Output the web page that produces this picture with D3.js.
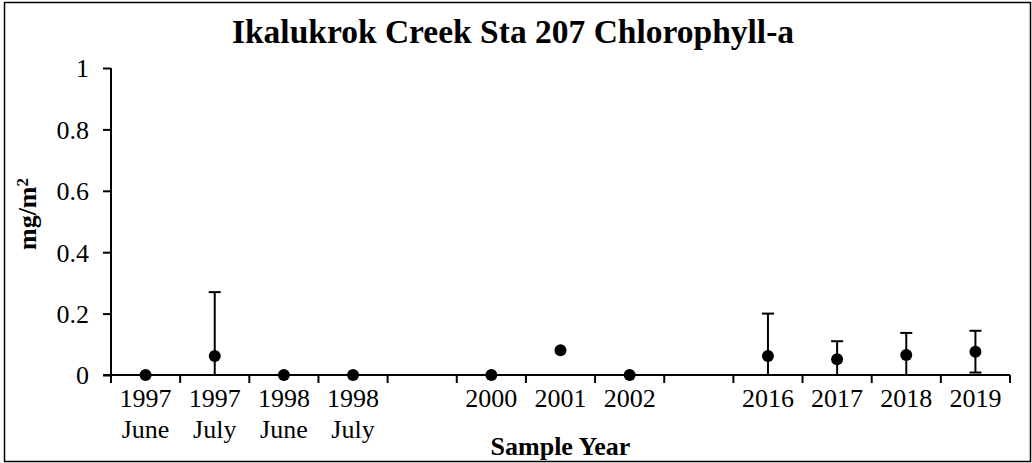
<!DOCTYPE html>
<html>
<head>
<meta charset="utf-8">
<script src="https://cdn.jsdelivr.net/npm/d3@7"></script>
<style>
  body { margin: 0; background: #fff; }
  svg { display: block; }
</style>
</head>
<body>
<div id="chart"></div>
<script>
// chart values
var yearLabels = ["1997", "1997", "1998", "1998", "", "2000", "2001", "2002", "", "2016", "2017", "2018", "2019"];
var monthLabels = ["June", "July", "June", "July", "", "", "", "", "", "", "", "", ""];
var means = [0, 0.062, 0, 0, null, 0, 0.081, 0, null, 0.062, 0.051, 0.065, 0.076];
var errors = [0, 0.208, 0, 0, null, 0, 0, 0, null, 0.138, 0.059, 0.072, 0.068];
var yTicks = [0, 0.2, 0.4, 0.6, 0.8, 1];

var serif = '"Liberation Serif", "Times New Roman", serif';
var width = 1032, height = 463;
var margin = {top: 68, right: 22, bottom: 88, left: 111};

var svg = d3.select("#chart").append("svg")
    .attr("width", width)
    .attr("height", height);

// outer frame
svg.append("rect")
    .attr("x", 4.5).attr("y", 2.5)
    .attr("width", width - 6).attr("height", height - 4)
    .attr("fill", "none")
    .attr("stroke", "#000")
    .attr("stroke-width", 1.5);

var x = d3.scaleBand()
    .domain(d3.range(yearLabels.length))
    .range([margin.left, width - margin.right]);

var y = d3.scaleLinear()
    .domain([0, 1])
    .range([height - margin.bottom, margin.top]);

// title
svg.append("text")
    .attr("x", 513)
    .attr("y", 43)
    .attr("text-anchor", "middle")
    .style("font-size", "33.5px")
    .style("font-weight", "bold")
    .text("Ikalukrok Creek Sta 207 Chlorophyll-a");

// y axis
var yAxis = svg.append("g")
    .attr("transform", "translate(" + margin.left + ",0)")
    .call(d3.axisLeft(y).tickValues(yTicks).tickSize(8).tickPadding(14).tickFormat(d3.format("")));
yAxis.select(".domain").attr("stroke-width", 2).attr("d", "M0," + y(1) + "V" + y(0));
yAxis.selectAll(".tick line").attr("stroke-width", 2);
yAxis.selectAll(".tick text").style("font-size", "26px").attr("dy", "0.34em");

// x axis: band edges get the tick marks
var xAxis = svg.append("g")
    .attr("transform", "translate(0," + y(0) + ")");
xAxis.append("line")
    .attr("x1", margin.left - 8).attr("x2", width - margin.right)
    .attr("stroke", "#000").attr("stroke-width", 2);
var edges = d3.range(yearLabels.length + 1).map(function(i) {
    return i < yearLabels.length ? x(i) : x(i - 1) + x.bandwidth();
});
xAxis.selectAll(".xtick")
    .data(edges)
    .enter().append("line")
    .attr("class", "xtick")
    .attr("x1", function(d) { return d; })
    .attr("x2", function(d) { return d; })
    .attr("y1", 0).attr("y2", 8)
    .attr("stroke", "#000").attr("stroke-width", 2);

var labels = xAxis.selectAll(".xlab")
    .data(yearLabels)
    .enter().append("text")
    .attr("class", "xlab")
    .attr("text-anchor", "middle")
    .style("font-size", "26px");
labels.append("tspan")
    .attr("x", function(d, i) { return x(i) + x.bandwidth() / 2; })
    .attr("y", 32)
    .text(function(d) { return d; });
labels.append("tspan")
    .attr("x", function(d, i) { return x(i) + x.bandwidth() / 2; })
    .attr("y", 63)
    .text(function(d, i) { return monthLabels[i]; });

// axis titles
svg.append("text")
    .attr("x", (margin.left + width - margin.right) / 2)
    .attr("y", 455)
    .attr("text-anchor", "middle")
    .style("font-size", "26px")
    .style("font-weight", "bold")
    .text("Sample Year");

var ylab = svg.append("text")
    .attr("transform", "translate(36,214) rotate(-90)")
    .attr("text-anchor", "middle")
    .style("font-size", "26px")
    .style("font-weight", "bold");
ylab.append("tspan").text("mg/m");
ylab.append("tspan").attr("dy", "-0.45em").style("font-size", "17px").text("2");

// data points with error bars
var pts = means.map(function(m, i) { return {i: i, m: m, e: errors[i]}; })
    .filter(function(d) { return d.m !== null; });

var bars = svg.append("g").selectAll("g")
    .data(pts.filter(function(d) { return d.e > 0; }))
    .enter().append("g");
bars.append("line")
    .attr("x1", function(d) { return x(d.i) + x.bandwidth() / 2; })
    .attr("x2", function(d) { return x(d.i) + x.bandwidth() / 2; })
    .attr("y1", function(d) { return y(Math.max(0, d.m - d.e)); })
    .attr("y2", function(d) { return y(d.m + d.e); })
    .attr("stroke", "#000").attr("stroke-width", 2);
bars.append("line")
    .attr("x1", function(d) { return x(d.i) + x.bandwidth() / 2 - 6; })
    .attr("x2", function(d) { return x(d.i) + x.bandwidth() / 2 + 6; })
    .attr("y1", function(d) { return y(d.m + d.e); })
    .attr("y2", function(d) { return y(d.m + d.e); })
    .attr("stroke", "#000").attr("stroke-width", 2);
// lower caps only when they stay inside the plot
bars.filter(function(d) { return d.m - d.e >= 0; }).append("line")
    .attr("x1", function(d) { return x(d.i) + x.bandwidth() / 2 - 6; })
    .attr("x2", function(d) { return x(d.i) + x.bandwidth() / 2 + 6; })
    .attr("y1", function(d) { return y(d.m - d.e); })
    .attr("y2", function(d) { return y(d.m - d.e); })
    .attr("stroke", "#000").attr("stroke-width", 2);

svg.append("g").selectAll("circle")
    .data(pts)
    .enter().append("circle")
    .attr("cx", function(d) { return x(d.i) + x.bandwidth() / 2; })
    .attr("cy", function(d) { return y(d.m); })
    .attr("r", 6)
    .attr("fill", "#000");

// every label in the Times-like face
svg.selectAll("text").style("font-family", serif);
yAxis.attr("font-family", null);
</script>
</body>
</html>
